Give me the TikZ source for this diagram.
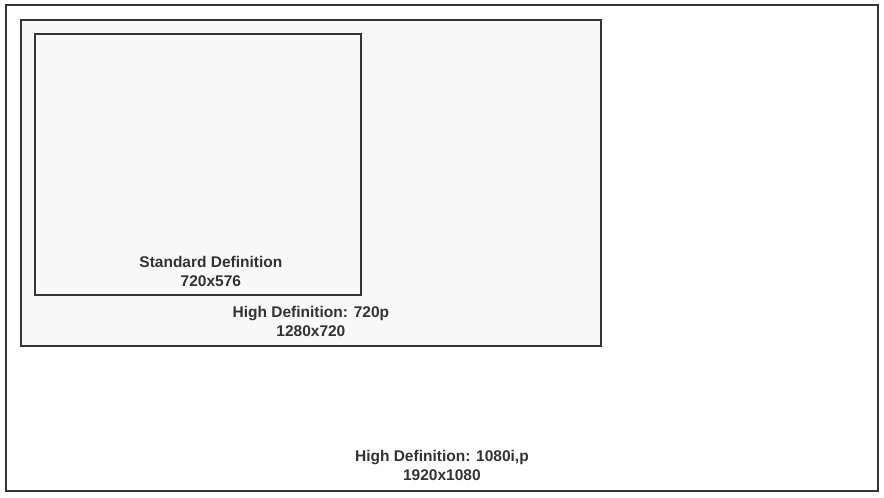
\documentclass[tikz,border=0pt]{standalone}
\usepackage{fontspec}
\setmainfont{Liberation Sans}
\usepackage{xcolor}
\usetikzlibrary{positioning,shadows}
\definecolor{edge}{RGB}{51, 51, 56}
\definecolor{panel}{RGB}{248, 248, 248}
\definecolor{ink}{RGB}{51, 51, 51}

\begin{document}
\begin{tikzpicture}[
    x=1pt, y=-1pt,
    frame/.style={rectangle, draw=edge, line width=1.8pt, inner sep=0pt,
        anchor=north west, drop shadow={shadow xshift=1.5pt, shadow yshift=-1.5pt,
        opacity=0.35, fill=black!50}},
    caption/.style={align=center, inner sep=0pt, text=ink,
        font=\fontsize{15.5}{19}\selectfont\bfseries}
]
\useasboundingbox (0,0) rectangle (884,498);

\node[frame, fill=white, minimum width=872pt, minimum height=486pt] (hd1080) at (5,4) {};
\node[frame, fill=panel, minimum width=580pt, minimum height=326pt] (hd720) at (20,19) {};
\node[frame, fill=panel, minimum width=326pt, minimum height=261pt] (sd) at (34,33) {};

\node[caption, above=11pt of hd1080.south] (hd1080text) {High Definition: 1080i,p\\1920x1080};
\node[caption, above=10pt of hd720.south] (hd720text) {High Definition: 720p\\1280x720};
\node[caption, above=9pt of sd.south, xshift=13pt] (sdtext) {Standard Definition\\720x576};

\end{tikzpicture}
\end{document}
